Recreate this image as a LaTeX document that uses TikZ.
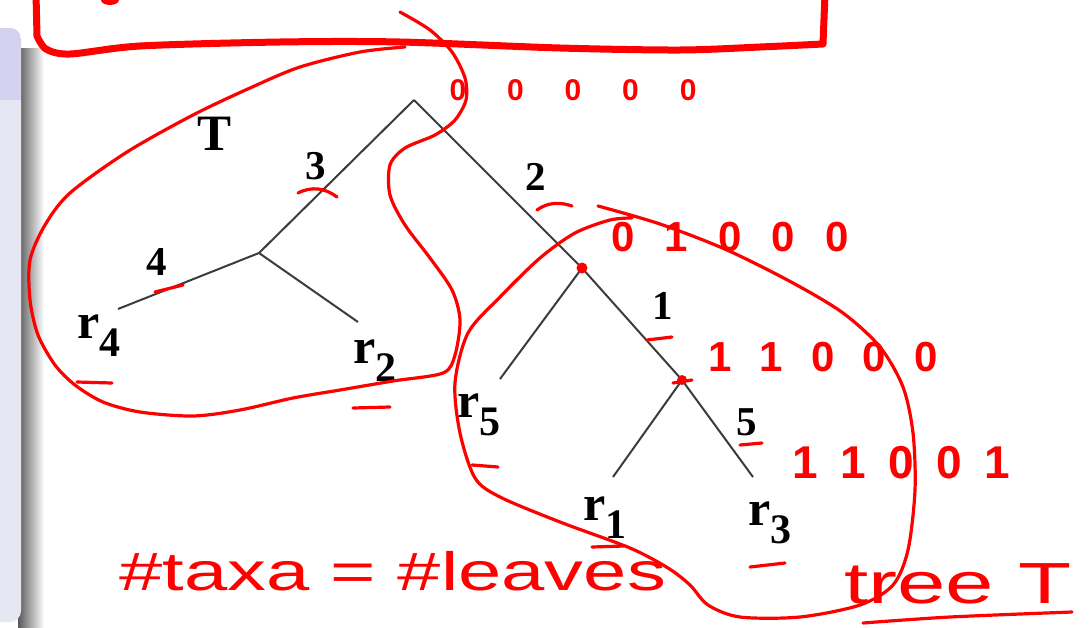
\documentclass[tikz,border=0pt]{standalone}
\usepackage{fontspec}
\setmainfont{Liberation Serif}
\newfontfamily\handfont{Liberation Sans}
\definecolor{ink}{HTML}{FF0000}
\definecolor{edgegray}{HTML}{3C3C3C}
\definecolor{paneltop}{HTML}{D3D3EF}
\definecolor{panelbot}{HTML}{E7E7F3}
\newcommand{\leafname}[1]{{\fontsize{50}{50}\selectfont\bfseries r}\raisebox{-18pt}{\fontsize{42}{42}\selectfont\bfseries #1}}
\begin{document}
\begin{tikzpicture}[x=1pt,y=-1pt,
  edge/.style={draw=edgegray,line width=2pt},
  lbl/.style={inner sep=0pt,font=\fontsize{41}{41}\selectfont\bfseries},
  leaf/.style={inner sep=0pt,anchor=base west},
  pen/.style={draw=ink,line width=3.2pt,line cap=round,line join=round},
  boxpen/.style={draw=ink,line width=7pt,line cap=round,line join=round},
  hand/.style={text=ink,inner sep=0pt}]
\useasboundingbox (0,0) rectangle (1089,627);
\fill[white] (0,0) rectangle (1089,627);
% slide panel with shadow
\shade[left color=black!65,right color=white] (18,48) rectangle (44,627);
\fill[panelbot] (-15,28) [rounded corners=11pt] -- (21,28) -- (21,622) -- (-15,622) [sharp corners] -- cycle;
\begin{scope}
\clip (-15,28) [rounded corners=11pt] -- (21,28) -- (21,622) -- (-15,622) [sharp corners] -- cycle;
\fill[paneltop] (-15,28) rectangle (21,100);
\end{scope}
% tree
\coordinate (root) at (414,100);
\coordinate (n1) at (259,253);
\coordinate (l4) at (118,309);
\coordinate (l2) at (358,322);
\coordinate (A) at (582,268);
\coordinate (l5) at (500,379);
\coordinate (B) at (682,380);
\coordinate (l1) at (613,477);
\coordinate (l3) at (753,477);
\draw[edge] (root) -- (n1);
\draw[edge] (n1) -- (l4);
\draw[edge] (n1) -- (l2);
\draw[edge] (root) -- (A);
\draw[edge] (A) -- (l5);
\draw[edge] (A) -- (B);
\draw[edge] (B) -- (l1);
\draw[edge] (B) -- (l3);
% labels
\node[inner sep=0pt,font=\fontsize{51}{51}\selectfont\bfseries] (T) at (215,134) {T};
\node[lbl] (w3) at (316,166) {3};
\node[lbl] (w4) at (157,262) {4};
\node[lbl] (w2) at (536,177) {2};
\node[lbl] (w1) at (663,306) {1};
\node[lbl] (w5) at (747,422) {5};
\node[leaf] (r4) at (77,338) {\leafname{4}};
\node[leaf] (r2) at (353,363) {\leafname{2}};
\node[leaf] (r5) at (457,417) {\leafname{5}};
\node[leaf] (r1) at (583,520) {\leafname{1}};
\node[leaf] (r3) at (748,525) {\leafname{3}};
% red box at top
\draw[boxpen] (36,-6) -- (37,36) -- plot[smooth] coordinates {(37,36) (46,49) (70,54) (140,46) (280,42) (400,42) (560,48) (680,50) (760,47) (823,44)} -- (825,-6);
\fill[ink] (110,0) ellipse [x radius=9, y radius=5];
% left loop
\draw[pen] plot[smooth] coordinates {(400,12) (430,30) (452,52) (465,78) (466,100) (455,120) (435,135) (405,148) (390,165) (390,195) (405,225) (430,258) (452,290) (460,320) (455,355) (443,373) (393,381) (340,390) (293,398) (240,410) (193,416) (140,412) (103,402) (75,385) (55,365) (38,335) (30,300) (30,260) (45,225) (70,193) (127,152) (193,115) (250,88) (300,67) (360,52) (405,47)};
% right loop
\draw[pen] plot[smooth] coordinates {(598,206) (660,224) (727,250) (793,283) (843,313) (880,347) (903,387) (913,433) (915,490) (908,550) (893,585) (860,605) (800,617) (740,617) (708,605) (690,585) (668,568) (630,548) (560,522) (500,497) (475,478) (460,433) (455,383) (468,333) (500,297) (540,258) (575,233) (610,220) (632,218)};
% red marks under labels
\draw[pen] (298,193) .. controls (312,186) and (325,188) .. (337,197);
\draw[pen] (155,292) -- (183,285);
\draw[pen] (353,408) -- (390,407);
\draw[pen] (77,382) -- (112,383);
\draw[pen] (537,210) .. controls (548,202) and (560,202) .. (572,206);
\draw[pen] (647,340) -- (672,337);
\draw[pen] (740,445) -- (762,443);
\draw[pen] (472,465) -- (498,467);
\draw[pen] (592,547) -- (624,546);
\draw[pen] (750,567) -- (785,563);
% red dots
\fill[ink] (A) circle[radius=5.5];
\fill[ink] (B) circle[radius=5];
\draw[pen] (673,383) -- (692,380);
% handwritten strings
\node[hand,font={\handfont\bfseries\fontsize{30}{30}\selectfont}] (s0) at (573,90) {\hbox to 247pt{0\hfil0\hfil0\hfil0\hfil0}};
\node[hand,font={\handfont\bfseries\fontsize{42}{42}\selectfont}] (s1) at (730,237) {\hbox to 237pt{0\hfil1\hfil0\hfil0\hfil0}};
\node[hand,font={\handfont\bfseries\fontsize{42}{42}\selectfont}] (s2) at (823,357) {\hbox to 230pt{1\hfil1\hfil0\hfil0\hfil0}};
\node[hand,font={\handfont\bfseries\fontsize{46}{46}\selectfont}] (s3) at (901,463) {\hbox to 218pt{1\hfil1\hfil0\hfil0\hfil1}};
\node[hand,anchor=base west,font={\handfont\fontsize{54}{54}\selectfont}] (taxa) at (119,590) {\scalebox{1.44}[1]{\#taxa = \#leaves}};
\node[hand,anchor=base west,font={\handfont\fontsize{58}{58}\selectfont}] (tree) at (844,603) {\scalebox{1.5}[1]{tree T}};
\draw[pen] plot[smooth] coordinates {(863,623) (950,617) (1072,612)};
\end{tikzpicture}
\end{document}
